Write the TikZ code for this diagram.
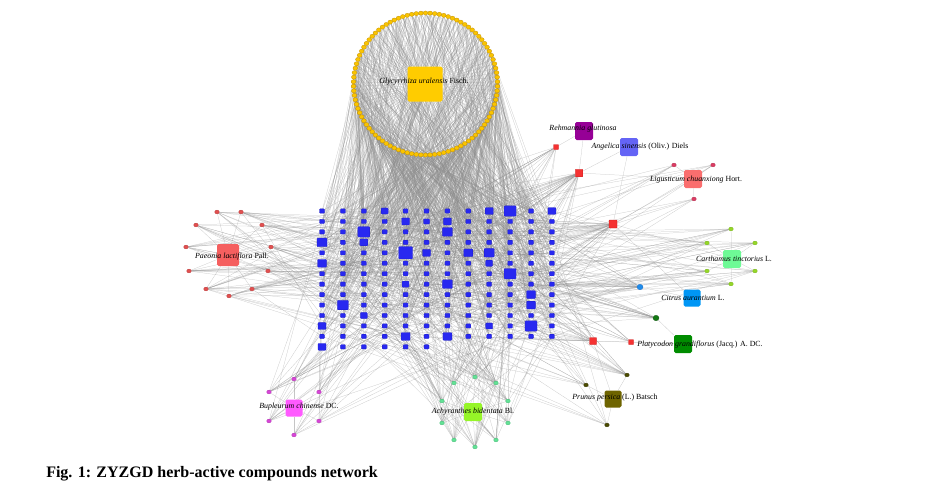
\documentclass[tikz,border=0pt]{standalone}
\usepackage{fontspec}
\setmainfont{Liberation Serif}
\usetikzlibrary{shapes.geometric}

\pgfdeclarelayer{edges}
\pgfsetlayers{edges,main}

\tikzset{
  herb/.style={rectangle, rounded corners=1.2pt, minimum size=#1*0.75pt, inner sep=0pt},
  cpd/.style={ellipse, minimum width=4.6*0.75pt, minimum height=3.8*0.75pt, inner sep=0pt, line width=0.2pt},
  tgt/.style={rectangle, rounded corners=0.6pt, fill={rgb, 255:red, 40; green, 40; blue, 240}, draw={rgb, 255:red, 25; green, 25; blue, 190}, line width=0.15pt, minimum width=#1*0.75pt, minimum height=#1*0.65pt, inner sep=0pt},
  tgt/.default=5,
  lnk/.style={draw={rgb, 255:red, 140; green, 140; blue, 140}, line width=0.18pt, draw opacity=0.5},
  hname/.style={font=\fontsize{5.9}{6.5}\selectfont, inner sep=0.5pt},
}

\begin{document}
\begin{tikzpicture}[x=0.75pt,y=0.75pt,yscale=-1,xscale=1]
\useasboundingbox (0,0) rectangle (946,489);

%Shape: Target grid
\foreach \cc in {0,...,11}{
  \pgfmathtruncatemacro{\rmax}{\cc<6 ? 13 : 12}
  \foreach \rr in {0,...,\rmax}
    \node[tgt] (t-\cc-\rr) at ({322+20.9*\cc},{211+10.45*\rr}) {};
}
%Shape: Larger targets
\foreach \cc/\rr/\s in {0/3/10, 0/5/9, 2/2/12, 2/3/8, 4/4/14, 5/4/8, 6/1/8, 6/2/10, 6/7/10, 7/4/9, 8/0/8, 8/4/10, 8/5/7, 9/0/12, 9/6/12, 10/8/9, 10/9/9, 10/11/12, 11/0/8, 1/9/11, 4/12/9, 6/12/9, 0/11/8, 0/13/8, 4/1/8, 3/0/7, 4/7/7, 8/11/7, 2/10/7, 5/1/6}
  \node[tgt=\s] (t-\cc-\rr) at ({322+20.9*\cc},{211+10.45*\rr}) {};

%Shape: Glycyrrhiza compounds
\foreach \k in {1,...,98}{
  \pgfmathsetmacro{\ang}{90+3.673469*\k}
  \node[cpd, minimum width=4.8*0.75pt, minimum height=4.2*0.75pt, fill={rgb, 255:red, 250; green, 196; blue, 0}, draw={rgb, 255:red, 190; green, 140; blue, 0}] (g\k) at ({425.5+72*cos(\ang)},{84-71*sin(\ang)}) {};
}

%Shape: Paeonia compounds
\foreach \n/\x/\y in {1/217/212, 2/241/212, 3/196/225, 4/262/225, 5/186/247, 6/271/247, 7/189/271, 8/268/271, 9/206/289, 10/252/289, 11/229/296}
  \node[cpd, fill={rgb, 255:red, 225; green, 80; blue, 80}, draw={rgb, 255:red, 180; green, 50; blue, 50}] (p\n) at (\x,\y) {};
%Shape: Bupleurum compounds
\foreach \n/\x/\y in {1/294/379, 2/269/392, 3/319/392, 4/269/421, 5/319/421, 6/294/435}
  \node[cpd, fill={rgb, 255:red, 215; green, 70; blue, 215}, draw={rgb, 255:red, 170; green, 40; blue, 170}] (b\n) at (\x,\y) {};
%Shape: Achyranthes compounds
\foreach \n/\x/\y in {1/475/377, 2/454/383, 3/496/383, 4/442/401, 5/508/401, 6/442/423, 7/508/423, 8/454/440, 9/496/440, 10/475/447}
  \node[cpd, fill={rgb, 255:red, 100; green, 225; blue, 150}, draw={rgb, 255:red, 60; green, 180; blue, 110}] (a\n) at (\x,\y) {};
%Shape: Prunus compounds
\foreach \n/\x/\y in {1/627/375, 2/586/385, 3/607/425}
  \node[cpd, fill={rgb, 255:red, 75; green, 75; blue, 0}, draw={rgb, 255:red, 50; green, 50; blue, 0}] (pr\n) at (\x,\y) {};
%Shape: Carthamus compounds
\foreach \n/\x/\y in {1/731/229, 2/707/243, 3/755/243, 4/707/271, 5/755/271, 6/731/284}
  \node[cpd, fill={rgb, 255:red, 150; green, 215; blue, 40}, draw={rgb, 255:red, 110; green, 170; blue, 20}] (c\n) at (\x,\y) {};
%Shape: Ligusticum compounds
\foreach \n/\x/\y in {1/674/165, 2/713/165, 3/694/199}
  \node[cpd, fill={rgb, 255:red, 220; green, 60; blue, 100}, draw={rgb, 255:red, 170; green, 40; blue, 70}] (l\n) at (\x,\y) {};
\node[cpd, minimum width=6*0.75pt, minimum height=5.5*0.75pt, fill={rgb, 255:red, 30; green, 140; blue, 235}, draw={rgb, 255:red, 20; green, 100; blue, 190}] (ci1) at (640,287) {};
\node[cpd, minimum width=6*0.75pt, minimum height=5.5*0.75pt, fill={rgb, 255:red, 20; green, 120; blue, 20}, draw={rgb, 255:red, 10; green, 80; blue, 10}] (pl1) at (656,318) {};
%Shape: Shared compounds
\foreach \n/\x/\y/\s in {1/556/147/5, 2/579/173/7.5, 3/613/224/8, 4/593/341/7, 5/631/342/5}
  \node[herb=\s, rounded corners=0.3pt, fill={rgb, 255:red, 245; green, 50; blue, 50}, draw={rgb, 255:red, 200; green, 30; blue, 30}, line width=0.15pt] (r\n) at (\x,\y) {};

%Shape: Herbs
\node[herb=35, fill={rgb, 255:red, 255; green, 204; blue, 0}] (gly) at (425,84) {};
\node[herb=22, fill={rgb, 255:red, 245; green, 95; blue, 95}] (paeo) at (228,255) {};
\node[herb=18, fill={rgb, 255:red, 150; green, 0; blue, 150}] (reh) at (584,131) {};
\node[herb=18, fill={rgb, 255:red, 100; green, 100; blue, 245}] (ang) at (629,147) {};
\node[herb=18, fill={rgb, 255:red, 250; green, 110; blue, 110}] (lig) at (693,179) {};
\node[herb=18, fill={rgb, 255:red, 110; green, 250; blue, 150}] (cart) at (732,259) {};
\node[herb=17, fill={rgb, 255:red, 0; green, 150; blue, 245}] (cit) at (692,298) {};
\node[herb=18, fill={rgb, 255:red, 0; green, 140; blue, 0}] (platy) at (683,344) {};
\node[herb=17, fill={rgb, 255:red, 110; green, 100; blue, 0}] (prun) at (613,399) {};
\node[herb=17, fill={rgb, 255:red, 255; green, 90; blue, 255}] (bup) at (294,408) {};
\node[herb=18, fill={rgb, 255:red, 150; green, 245; blue, 40}] (achy) at (473,412) {};

\begin{pgfonlayer}{edges}
\pgfmathsetseed{11}
%Straight Lines: Glycyrrhiza
\foreach \k in {1,...,98}{
  \draw[lnk] (g\k) -- (gly);
  \foreach \m in {1,...,9}{
    \pgfmathrandominteger{\cc}{0}{11}
    \pgfmathrandominteger{\rr}{0}{12}
    \draw[lnk] (g\k) -- (t-\cc-\rr);
  }
}
%Straight Lines: other compounds to their herbs
\foreach \a/\b in {p1/paeo, p2/paeo, p3/paeo, p4/paeo, p5/paeo, p6/paeo, p7/paeo, p8/paeo, p9/paeo, p10/paeo, p11/paeo, b1/bup, b2/bup, b3/bup, b4/bup, b5/bup, b6/bup, a1/achy, a2/achy, a3/achy, a4/achy, a5/achy, a6/achy, a7/achy, a8/achy, a9/achy, a10/achy, pr1/prun, pr2/prun, pr3/prun, c1/cart, c2/cart, c3/cart, c4/cart, c5/cart, c6/cart, l1/lig, l2/lig, l3/lig, r2/lig, r3/lig, r1/reh, r2/reh, r2/ang, r3/ang, ci1/cit, r3/cit, pl1/platy, r5/platy, r4/platy, r4/prun, r3/cart, r1/paeo, r3/paeo}
  \draw[lnk] (\a) -- (\b);
%Straight Lines: compounds to targets
\foreach \a/\n in {p1/9, p2/9, p3/9, p4/9, p5/10, p6/9, p7/10, p8/9, p9/14, p10/9, p11/9, b1/8, b2/10, b3/8, b4/10, b5/8, b6/7, a1/12, a2/12, a3/12, a4/11, a5/11, a6/11, a7/11, a8/12, a9/12, a10/16, pr1/16, pr2/9, pr3/7, c1/9, c2/9, c3/8, c4/9, c5/8, c6/10, l1/5, l2/5, l3/5, ci1/20, pl1/18, r1/14, r2/34, r3/30, r4/20, r5/9}{
  \foreach \m in {1,...,\n}{
    \pgfmathrandominteger{\cc}{0}{11}
    \pgfmathrandominteger{\rr}{0}{12}
    \draw[lnk] (\a) -- (t-\cc-\rr);
  }
}
\end{pgfonlayer}

% Text Node
\node[hname] (gly-t) at (424,82) {\textit{Glycyrrhiza uralensis} Fisch.};
% Text Node
\node[hname] (reh-t) at (583,129) {\textit{Rehmannia glutinosa}};
% Text Node
\node[hname] (ang-t) at (640,147) {\textit{Angelica sinensis} (Oliv.) Diels};
% Text Node
\node[hname] (lig-t) at (696,180) {\textit{Ligusticum chuanxiong} Hort.};
% Text Node
\node[hname] (paeo-t) at (232,257) {\textit{Paeonia lactiflora} Pall.};
% Text Node
\node[hname] (cart-t) at (734,259) {\textit{Carthamus tinctorius} L.};
% Text Node
\node[hname] (cit-t) at (693,298) {\textit{Citrus aurantium} L.};
% Text Node
\node[hname] (platy-t) at (700,345) {\textit{Platycodon grandiflorus} (Jacq.) A. DC.};
% Text Node
\node[hname] (prun-t) at (615,398) {\textit{Prunus persica} (L.) Batsch};
% Text Node
\node[hname] (bup-t) at (299,407) {\textit{Bupleurum chinense} DC.};
% Text Node
\node[hname] (achy-t) at (473,412) {\textit{Achyranthes bidentata} Bl.};
% Text Node
\node[anchor=west, inner sep=0.75pt, font=\fontsize{12}{14}\selectfont\bfseries] (cap) at (45,474) {Fig. 1: ZYZGD herb-active compounds network};

\end{tikzpicture}
\end{document}
